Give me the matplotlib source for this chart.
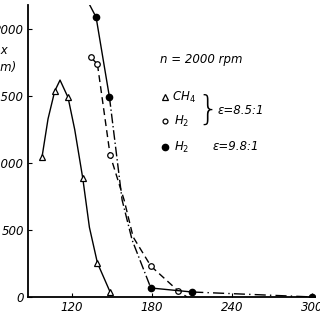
import numpy as np
import matplotlib.pyplot as plt

# data
ch4_x = [97.5, 107, 117, 128, 139, 148.5]
ch4_y = [1045, 1537, 1490, 888, 254, 37]
ch4_line_x = [97.5, 102, 107, 111, 117, 122, 128, 133, 139, 148.5]
ch4_line_y = [1045, 1330, 1537, 1620, 1490, 1250, 888, 520, 254, 37]

h2a_x = [134, 139, 148.5, 179, 199.5]
h2a_y = [1791, 1739, 1060, 231, 45]
h2a_line_x = [139, 148.5, 159, 165.75, 179, 199.5, 206]
h2a_line_y = [1739, 1060, 724, 448, 231, 45, 0]

h2b_x = [138, 148, 179, 210, 300]
h2b_y = [2090, 1493, 67, 37, 0]
h2b_line_x = [148, 157.5, 165, 179]
h2b_line_y = [1493, 724, 425, 67]

xticks = [120, 180, 240, 300]
yticks = [0, 500, 1000, 1500, 2000]

fig = plt.figure(figsize=(3.2, 3.2), dpi=100)
ax = fig.add_axes([0.0875, 0.072, 0.897, 0.912])

fs = 8.5
ax.plot(ch4_line_x, ch4_line_y, color='k', lw=1.0)
ax.plot(ch4_x, ch4_y, ls='none', marker='^', ms=5, mfc='white', mec='k', mew=0.9)

ax.plot(h2a_line_x, h2a_line_y, color='k', lw=1.0, ls=(0, (5, 3)))
ax.plot(h2a_x[:2], h2a_y[:2], color='k', lw=1.0)
ax.plot(h2a_x, h2a_y, ls='none', marker='o', ms=4, mfc='white', mec='k', mew=0.9)

ax.plot(h2b_x[:2], h2b_y[:2], color='k', lw=1.0)
ax.plot([132.75, 138], [2190, 2090], color='k', lw=1.0)
ax.plot(h2b_line_x, h2b_line_y, color='k', lw=1.0, ls=(0, (7, 2, 1, 2)))
ax.plot(h2b_x[2:4], h2b_y[2:4], color='k', lw=1.0)
ax.plot(h2b_x[3:], h2b_y[3:], color='k', lw=1.0, ls=(0, (8, 3, 1, 3)))
ax.plot(h2b_x, h2b_y, ls='none', marker='o', ms=4.5, color='k')

ax.set_xlim(87, 302)
ax.set_ylim(0, 2180)
ax.spines['top'].set_visible(False)
ax.spines['right'].set_visible(False)
ax.spines['left'].set_linewidth(1.3)
ax.spines['bottom'].set_linewidth(1.3)
ax.set_xticks(xticks)
ax.set_yticks(yticks)
ax.set_xticklabels([str(v) for v in xticks], fontstyle='italic', fontsize=fs)
ax.set_yticklabels([str(v) for v in yticks], fontstyle='italic', fontsize=fs)
ax.tick_params(direction='in', length=3, width=0.8, pad=3)


def ftxt(px, py, s, **kw):
    opts = dict(fontsize=fs, fontstyle='italic', va='center')
    opts.update(kw)
    fig.text(px / 320, 1 - py / 320, s, **opts)


def fmark(px, py, **kw):
    ax.plot([px / 320], [1 - py / 320], transform=fig.transFigure, clip_on=False, ls='none', **kw)


ftxt(8, 50, 'max', ha='right')
ftxt(16, 68, '(mm)', ha='right')

# legend written as text, like the original
ftxt(160, 60, 'n = 2000 rpm')
fmark(165, 97, marker='^', ms=4.5, mfc='white', mec='k', mew=0.9)
ftxt(172, 97, 'CH$_4$')
fmark(165, 121, marker='o', ms=3.5, mfc='white', mec='k', mew=0.9)
ftxt(174, 121, 'H$_2$')
fmark(165, 147, marker='o', ms=4.5, color='k')
ftxt(174, 147, 'H$_2$')
ftxt(208, 110, '}', fontsize=24, fontstyle='normal', fontweight='light', ha='center')
ftxt(218, 110, 'ε=8.5:1')
ftxt(213, 147, 'ε=9.8:1')

fig.savefig('out.png', dpi=100)
